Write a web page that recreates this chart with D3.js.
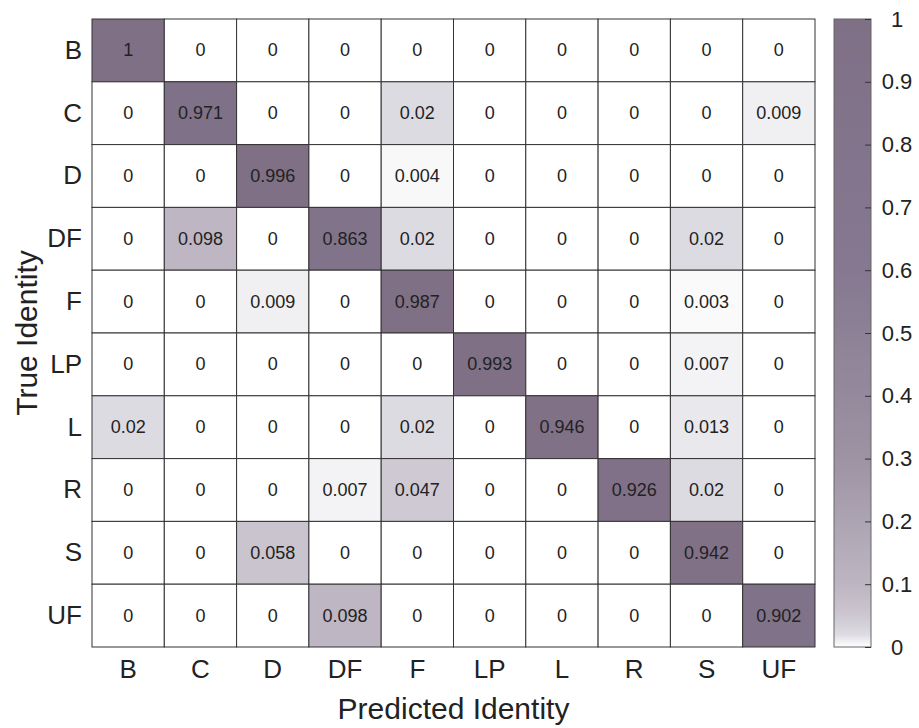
<!DOCTYPE html>
<html>
<head>
<meta charset="utf-8">
<script src="https://cdn.jsdelivr.net/npm/d3@7"></script>
<style>
  body { margin: 0; background: #fff; }
  text { font-family: "Liberation Sans", Arial, sans-serif; fill: #222; }
</style>
</head>
<body>
<div id="chart"></div>
<script>
// class labels (rows = true, cols = predicted)
var classes = ["B", "C", "D", "DF", "F", "LP", "L", "R", "S", "UF"];

// confusion matrix rows
var rowB  = [1, 0, 0, 0, 0, 0, 0, 0, 0, 0];
var rowC  = [0, 0.971, 0, 0, 0.02, 0, 0, 0, 0, 0.009];
var rowD  = [0, 0, 0.996, 0, 0.004, 0, 0, 0, 0, 0];
var rowDF = [0, 0.098, 0, 0.863, 0.02, 0, 0, 0, 0.02, 0];
var rowF  = [0, 0, 0.009, 0, 0.987, 0, 0, 0, 0.003, 0];
var rowLP = [0, 0, 0, 0, 0, 0.993, 0, 0, 0.007, 0];
var rowL  = [0.02, 0, 0, 0, 0.02, 0, 0.946, 0, 0.013, 0];
var rowR  = [0, 0, 0, 0.007, 0.047, 0, 0, 0.926, 0.02, 0];
var rowS  = [0, 0, 0.058, 0, 0, 0, 0, 0, 0.942, 0];
var rowUF = [0, 0, 0, 0.098, 0, 0, 0, 0, 0, 0.902];
var matrix = [rowB, rowC, rowD, rowDF, rowF, rowLP, rowL, rowR, rowS, rowUF];

var colorTicks = [0, 0.1, 0.2, 0.3, 0.4, 0.5, 0.6, 0.7, 0.8, 0.9, 1];

var W = 919, H = 728;
var margin = { left: 92, top: 19, right: 104, bottom: 81 };

var svg = d3.select("#chart").append("svg")
  .attr("width", W).attr("height", H);

var x = d3.scaleBand().domain(classes).range([margin.left, W - margin.right]);
var y = d3.scaleBand().domain(classes).range([margin.top, H - margin.bottom]);

// white -> greyish purple, saturating early
var color = d3.scaleLinear()
  .domain([0, 0.02, 0.05, 0.1, 0.3, 0.6, 1])
  .range(["#ffffff", "#dddbe2", "#cdc7d1", "#bdb5c2", "#9d93a3", "#857890", "#7f7086"])
  .clamp(true);

var cells = [];
matrix.forEach(function(row, i) {
  row.forEach(function(v, j) {
    cells.push({ t: classes[i], p: classes[j], v: v });
  });
});

svg.append("g").selectAll("rect")
  .data(cells)
  .enter()
  .append("rect")
  .attr("x", function(d) { return x(d.p); })
  .attr("y", function(d) { return y(d.t); })
  .attr("width", x.bandwidth())
  .attr("height", y.bandwidth())
  .attr("fill", function(d) { return color(d.v); })
  .attr("stroke", "#333")
  .attr("stroke-width", 1);

svg.append("g").selectAll("text")
  .data(cells)
  .enter()
  .append("text")
  .attr("x", function(d) { return x(d.p) + x.bandwidth() / 2; })
  .attr("y", function(d) { return y(d.t) + y.bandwidth() / 2; })
  .attr("text-anchor", "middle")
  .attr("dominant-baseline", "central")
  .style("font-size", "18px")
  .text(function(d) { return d.v; });

// row / column labels
var yAxis = svg.append("g")
  .attr("transform", "translate(" + margin.left + ",0)")
  .call(d3.axisLeft(y).tickSize(0).tickPadding(10));
var xAxis = svg.append("g")
  .attr("transform", "translate(0," + (H - margin.bottom) + ")")
  .call(d3.axisBottom(x).tickSize(0).tickPadding(13));
[xAxis, yAxis].forEach(function(a) {
  a.select(".domain").remove();
  a.selectAll("text").style("font-size", "26px").attr("fill", "#222");
});

svg.append("text")
  .attr("x", (margin.left + W - margin.right) / 2)
  .attr("y", 719)
  .attr("text-anchor", "middle")
  .style("font-size", "30px")
  .text("Predicted Identity");

svg.append("text")
  .attr("transform", "translate(37," + ((margin.top + H - margin.bottom) / 2) + ") rotate(-90)")
  .attr("text-anchor", "middle")
  .style("font-size", "30px")
  .text("True Identity");

// colorbar
var cbX = 834, cbW = 37;
var cy = d3.scaleLinear().domain([0, 1]).range([H - margin.bottom, margin.top]);

var grad = svg.append("defs").append("linearGradient")
  .attr("id", "cbgrad")
  .attr("x1", 0).attr("y1", 1).attr("x2", 0).attr("y2", 0);
d3.range(0, 1.0001, 0.01).forEach(function(t) {
  grad.append("stop").attr("offset", t).attr("stop-color", color(t));
});

svg.append("rect")
  .attr("x", cbX).attr("y", cy(1))
  .attr("width", cbW).attr("height", cy(0) - cy(1))
  .attr("fill", "url(#cbgrad)")
  .attr("stroke", "#666")
  .attr("stroke-width", 1);

var cb = svg.append("g")
  .attr("transform", "translate(" + (cbX + cbW) + ",0)")
  .call(d3.axisRight(cy).tickValues(colorTicks).tickSize(-6).tickPadding(26)
        .tickFormat(d3.format("")));
cb.select(".domain").remove();
cb.selectAll("line").attr("stroke", "#333");
cb.selectAll("text")
  .attr("text-anchor", "middle")
  .style("font-size", "22px")
  .attr("fill", "#222");
</script>
</body>
</html>
